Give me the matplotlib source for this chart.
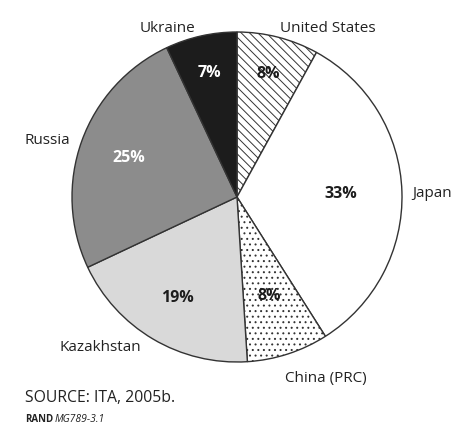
import matplotlib
matplotlib.use("Agg")
import matplotlib.pyplot as plt
import numpy as np

plt.rcParams['font.family'] = ['Open Sans', 'DejaVu Sans']
plt.rcParams['hatch.linewidth'] = 0.7

countries = ["United States", "Japan", "China (PRC)", "Kazakhstan", "Russia", "Ukraine"]
shares = [8, 33, 8, 19, 25, 7]

colors = ['white', 'white', 'white', '#d9d9d9', '#8c8c8c', '#1c1c1c']
hatches = ['\\\\\\\\', '', '...', '', '', '']
pct_colors = ['#1c1c1c', '#1c1c1c', '#1c1c1c', '#1c1c1c', 'white', 'white']
pct_radius = [0.77, 0.63, 0.63, 0.71, 0.70, 0.77]
label_xy = [(0.55, 1.02), (1.18, 0.02), (0.54, -1.10), (-0.83, -0.91), (-1.15, 0.34), (-0.42, 1.02)]

fig = plt.figure(figsize=(4.74, 4.33), dpi=100)
ax = fig.add_axes([(237 - 165) / 474, (433 - 362) / 433, 330 / 474, 330 / 433])

wedges, _ = ax.pie(shares, colors=colors, startangle=90, counterclock=False,
                   wedgeprops=dict(edgecolor='#333333', linewidth=1.0))
for w, h in zip(wedges, hatches):
    if h:
        w.set_hatch(h)

total = sum(shares)
start = 90.0
for i, s in enumerate(shares):
    mid = np.deg2rad(start - 360.0 * s / total / 2)
    start -= 360.0 * s / total
    r = pct_radius[i]
    ax.text(r * np.cos(mid), r * np.sin(mid), f"{s}%", ha='center', va='center',
            fontsize=11.5, fontweight='bold', color=pct_colors[i])
    lx, ly = label_xy[i]
    ax.text(lx, ly, countries[i], ha='center', va='center', fontsize=11, color='#222222')

ax.set_xlim(-1, 1)
ax.set_ylim(-1, 1)
ax.set_aspect('equal')
ax.axis('off')

fig.text(25 / 474, 1 - 398 / 433, "SOURCE: ITA, 2005b.", fontsize=11.3, va='center', color='#222222')
fig.text(25 / 474, 1 - 419 / 433, "RAND", fontsize=7, fontweight='bold', va='center', color='#222222')
fig.text(55 / 474, 1 - 419 / 433, "MG789-3.1", fontsize=7.5, style='italic', va='center', color='#222222')

fig.savefig("out.png", dpi=100, facecolor='white')
